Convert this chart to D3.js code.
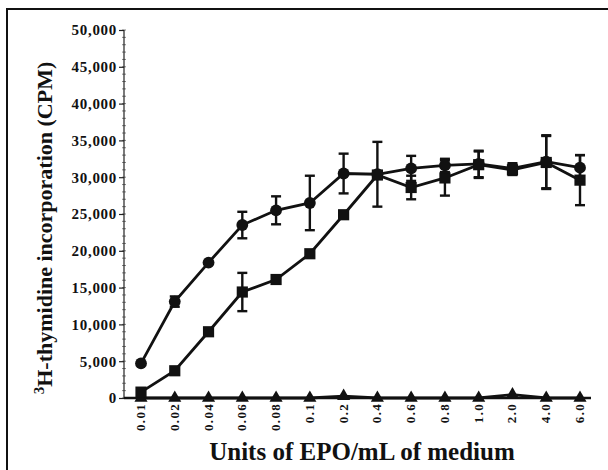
<!DOCTYPE html>
<html>
<head>
<meta charset="utf-8">
<script src="https://cdn.jsdelivr.net/npm/d3@7"></script>
<style>
  body { margin: 0; background: #fff; }
  text { font-family: "Liberation Serif", "Times New Roman", serif; font-weight: bold; fill: #111; }
</style>
</head>
<body>
<div id="chart"></div>
<script>
/* DATA */
const doses = ["0.01", "0.02", "0.04", "0.06", "0.08", "0.1", "0.2", "0.4", "0.6", "0.8", "1.0", "2.0", "4.0", "6.0"];

// circles
const circleMean = [4700, 13100, 18400, 23500, 25500, 26500, 30500, 30400, 31200, 31600, 31800, 31200, 32100, 31300];
const circleErr  = [300, 700, 300, 1800, 1900, 3700, 2700, 4400, 1700, 900, 1800, 700, 3600, 1700];
// squares
const squareMean = [800, 3700, 9000, 14400, 16100, 19600, 24900, 30300, 28600, 29900, 31700, 31000, 32000, 29600];
const squareErr  = [300, 300, 300, 2600, 300, 300, 300, 300, 1600, 2400, 1800, 700, 3600, 3400];
// triangles
const triMean = [0, 0, 0, 0, 0, 0, 250, 0, 0, 0, 0, 450, 0, 0];

const yTicks = d3.range(0, 50001, 5000);

/* LAYOUT */
const width = 608, height = 470;

const svg = d3.select("#chart").append("svg")
  .attr("width", width)
  .attr("height", height);

// frame (cut off on right / bottom in the original)
svg.append("rect")
  .attr("x", 7).attr("y", 9)
  .attr("width", 610).attr("height", 470)
  .attr("fill", "none")
  .attr("stroke", "#111")
  .attr("stroke-width", 2);

const xScale = d3.scalePoint().domain(doses).range([141, 580]);
const yScale = d3.scaleLinear().domain([0, 50000]).range([398, 30]);

// minor ticks on y axis
svg.append("g")
  .selectAll("line")
  .data(d3.range(0, 50001, 1000))
  .join("line")
  .attr("x1", 122).attr("x2", 126)
  .attr("y1", d => yScale(d)).attr("y2", d => yScale(d))
  .attr("stroke", "#666")
  .attr("stroke-width", 0.8);

// y axis
const yAxis = d3.axisLeft(yScale)
  .tickValues(yTicks)
  .tickFormat(d3.format(","))
  .tickSize(5)
  .tickPadding(2);

const gy = svg.append("g")
  .attr("transform", "translate(124,0)")
  .call(yAxis);
gy.select(".domain").attr("stroke", "#222").attr("stroke-width", 1.2).attr("d", "M0,30V398");
gy.selectAll(".tick line").attr("stroke", "#222").attr("stroke-width", 1.2);
gy.selectAll(".tick text")
  .attr("font-size", 15)
  .attr("fill", "#111")
  .attr("letter-spacing", 0.7)
  .style("font-family", "Liberation Serif, serif")
  .style("font-weight", "bold");

// x axis
svg.append("line")
  .attr("x1", 124).attr("x2", 591)
  .attr("y1", yScale(0)).attr("y2", yScale(0))
  .attr("stroke", "#111")
  .attr("stroke-width", 2.4);

svg.append("g")
  .selectAll("text")
  .data(doses)
  .join("text")
  .attr("transform", d => `translate(${xScale(d) + 4},${yScale(0) + 5}) rotate(-90)`)
  .attr("text-anchor", "end")
  .attr("font-size", 13)
  .attr("letter-spacing", 1.3)
  .text(d => d);

/* SERIES */
function drawSeries(means, errs, shape) {
  const g = svg.append("g");
  const pts = doses.map((d, i) => ({ x: xScale(d), y: means[i], e: errs ? errs[i] : 0 }));

  const line = d3.line().x(d => d.x).y(d => yScale(d.y));
  g.append("path")
    .attr("d", line(pts))
    .attr("fill", "none")
    .attr("stroke", "#111")
    .attr("stroke-width", 2.8);

  if (errs) {
    const eb = g.selectAll("g.err").data(pts.filter(p => p.e > 500)).join("g").attr("class", "err");
    eb.append("line")
      .attr("x1", d => d.x).attr("x2", d => d.x)
      .attr("y1", d => yScale(d.y - d.e)).attr("y2", d => yScale(d.y + d.e))
      .attr("stroke", "#111").attr("stroke-width", 2.4);
    [-1, 1].forEach(s => {
      eb.append("line")
        .attr("x1", d => d.x - 5).attr("x2", d => d.x + 5)
        .attr("y1", d => yScale(d.y + s * d.e)).attr("y2", d => yScale(d.y + s * d.e))
        .attr("stroke", "#111").attr("stroke-width", 2.4);
    });
  }

  g.selectAll("path.mark")
    .data(pts)
    .join("path")
    .attr("class", "mark")
    .attr("transform", d => `translate(${d.x},${yScale(d.y)})`)
    .attr("d", d3.symbol().type(shape).size(shape === d3.symbolTriangle ? 75 : shape === d3.symbolSquare ? 125 : 110))
    .attr("fill", "#111");
}

drawSeries(triMean, null, d3.symbolTriangle);
drawSeries(squareMean, squareErr, d3.symbolSquare);
drawSeries(circleMean, circleErr, d3.symbolCircle);

/* AXIS TITLES */
svg.append("text")
  .attr("x", 362).attr("y", 460)
  .attr("text-anchor", "middle")
  .attr("font-size", 25)
  .text("Units of EPO/mL of medium");

const yl = svg.append("text")
  .attr("transform", "translate(52,228) rotate(-90)")
  .attr("text-anchor", "middle")
  .attr("font-size", 22);
yl.append("tspan").attr("font-size", 15).attr("dy", -8).text("3");
yl.append("tspan").attr("dy", 8).text("H-thymidine incorporation (CPM)");
</script>
</body>
</html>
